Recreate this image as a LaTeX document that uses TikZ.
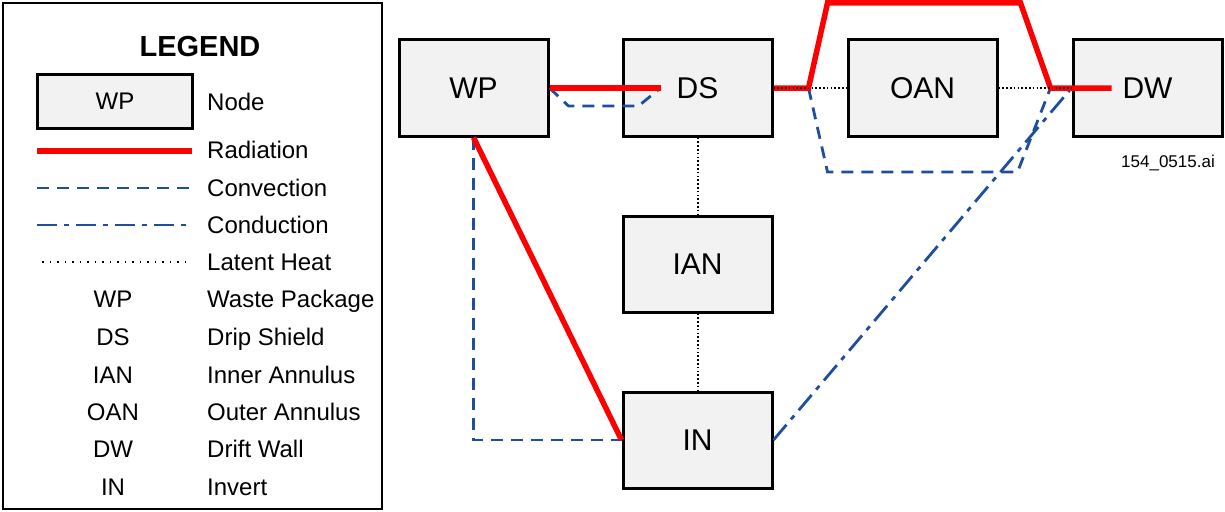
\documentclass[tikz,border=0pt]{standalone}
\usepackage{fontspec}
\setmainfont{Liberation Sans}
\usetikzlibrary{calc}
\definecolor{boxfill}{HTML}{F2F2F2}
\definecolor{radred}{HTML}{FF0000}
\definecolor{convblue}{HTML}{1F4E9F}
\tikzset{
  nodebox/.style={draw=black, line width=3pt, fill=boxfill, minimum width=149pt, minimum height=96pt, inner sep=0pt, font=\fontsize{30}{34}\selectfont},
  legbox/.style={draw=black, line width=3pt, fill=boxfill, minimum width=155pt, minimum height=54pt, inner sep=0pt, font=\fontsize{24}{28}\selectfont},
  radiation/.style={draw=radred, line width=5.5pt, line join=miter},
  convection/.style={draw=convblue, line width=2.8pt, dash pattern=on 12pt off 8pt},
  conduction/.style={draw=convblue, line width=2.8pt, dash pattern=on 20pt off 7pt on 5pt off 7pt},
  latent/.style={draw=black, line width=2pt, dash pattern=on 1.6pt off 2.2pt},
  latentleg/.style={draw=black, line width=2pt, dash pattern=on 1.6pt off 5.9pt},
  legtxt/.style={anchor=base west, inner sep=0pt, font=\fontsize{24}{28}\selectfont},
  legabbr/.style={anchor=base, inner sep=0pt, font=\fontsize{24}{28}\selectfont},
}
\begin{document}
\begin{tikzpicture}[x=1pt, y=-1pt]
\useasboundingbox (0,0) rectangle (1225,511);
% ---------- legend ----------
\draw[line width=2.8pt] (3,3) rectangle (382,509);
\node[font=\bfseries\fontsize{29}{33}\selectfont, inner sep=0pt] (legtitle) at (200,47) {LEGEND};
\node[legbox] (legnode) at (115,101) {WP};
\node[legtxt] (lnode) at (207,110) {Node};
\draw[radiation] (37,151) -- (192,151);
\node[legtxt] (lrad) at (207,158) {Radiation};
\draw[convection] (37,188) -- (192,188);
\node[legtxt] (lconv) at (207,196) {Convection};
\draw[conduction] (37,225) -- (192,225);
\node[legtxt] (lcond) at (207,233) {Conduction};
\draw[latentleg] (42,262) -- (190,262);
\node[legtxt] (llat) at (207,270) {Latent Heat};
\node[legabbr] (awp) at (113,307) {WP};
\node[legtxt] (lwp) at (207,307) {Waste Package};
\node[legabbr] (ads) at (113,345) {DS};
\node[legtxt] (lds) at (207,345) {Drip Shield};
\node[legabbr] (aian) at (113,383) {IAN};
\node[legtxt] (lian) at (207,383) {Inner Annulus};
\node[legabbr] (aoan) at (113,420) {OAN};
\node[legtxt] (loan) at (207,420) {Outer Annulus};
\node[legabbr] (adw) at (113,457) {DW};
\node[legtxt] (ldw) at (207,457) {Drift Wall};
\node[legabbr] (ain) at (113,495) {IN};
\node[legtxt] (lin) at (207,495) {Invert};
% ---------- nodes ----------
\node[nodebox] (WP) at (473.5,88) {WP};
\node[nodebox] (DS) at (697.5,88) {DS};
\node[nodebox] (OAN) at (922.5,88) {OAN};
\node[nodebox] (DW) at (1147.5,88) {DW};
\node[nodebox] (IAN) at (697.5,264) {IAN};
\node[nodebox] (IN) at (697.5,440) {IN};
\node[inner sep=0pt, font=\fontsize{17}{20}\selectfont] (fig) at (1168,163) {154\_0515.ai};
% ---------- helper coordinates ----------
\coordinate (dsin) at ([xshift=39pt]DS.west);
\coordinate (wpd1) at ([shift={(19,18)}]WP.east);
\coordinate (wpd2) at ([shift={(17,18)}]DS.west);
\coordinate (r1) at ([xshift=35pt]DS.east);
\coordinate (r2) at ([shift={(54,-85)}]DS.east);
\coordinate (r3) at ([shift={(-51,-85)}]DW.west);
\coordinate (r4) at ([xshift=-21pt]DW.west);
\coordinate (dwin) at ([xshift=40pt]DW.west);
\coordinate (c2) at ([shift={(54,84)}]DS.east);
\coordinate (c3) at ([shift={(-54,84)}]DW.west);
% ---------- convection ----------
\draw[convection] (WP.east) -- (wpd1) -- (wpd2) -- (dsin);
\draw[convection] (WP.south) |- (IN.west);
\draw[convection] (r1) -- (c2) -- (c3) -- (r4);
% ---------- conduction ----------
\draw[conduction] (IN.east) -- (DW.west);
% ---------- radiation ----------
\draw[radiation] (WP.east) -- (dsin);
\draw[radiation] (WP.south) -- (IN.west);
\draw[radiation] (DS.east) -- (r1) -- (r2) -- (r3) -- (r4) -- (dwin);
% ---------- latent heat ----------
\draw[latent] (DS.east) -- (OAN.west);
\draw[latent] (OAN.east) -- (DW.west);
\draw[latent] (DS.south) -- (IAN.north);
\draw[latent] (IAN.south) -- (IN.north);
\end{tikzpicture}
\end{document}
